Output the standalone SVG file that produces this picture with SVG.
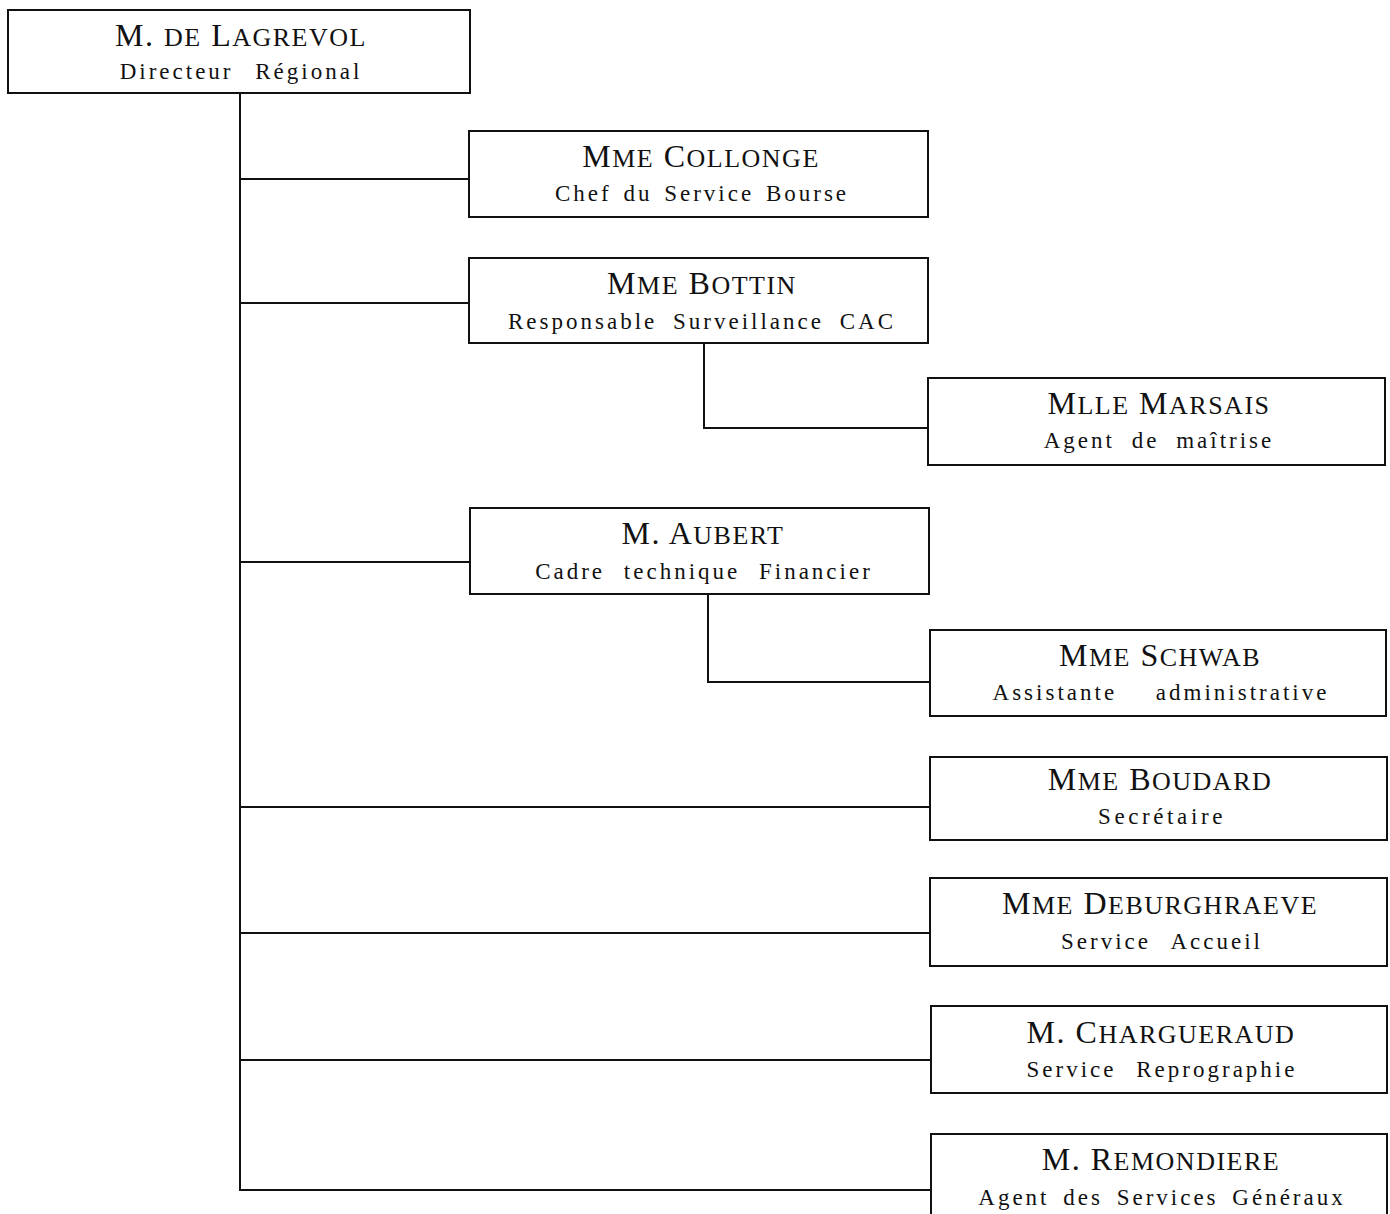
<svg xmlns="http://www.w3.org/2000/svg" width="1390" height="1214" viewBox="0 0 1390 1214">
  <style>
    .box { fill: #fff; stroke: #111; stroke-width: 2; }
    .wire { fill: none; stroke: #111; stroke-width: 2; }
    .name { font-family: "Liberation Serif", "Times New Roman", serif; font-size: 32px; fill: #111; text-anchor: middle; letter-spacing: 1.5px; }
    .sc { font-size: 26px; }
    .role { font-family: "Liberation Serif", "Times New Roman", serif; font-size: 23px; fill: #111; text-anchor: middle; letter-spacing: 3px; word-spacing: 8px; }
  </style>
  <rect width="1390" height="1214" fill="#fff"/>

  <!-- connectors -->
  <g id="connectors">
    <path class="wire" d="M240 93 V1190 H931"/>
    <path class="wire" d="M240 179 H469"/>
    <path class="wire" d="M240 303 H469"/>
    <path class="wire" d="M704 343 V428 H928"/>
    <path class="wire" d="M240 562 H470"/>
    <path class="wire" d="M708 594 V682 H930"/>
    <path class="wire" d="M240 807 H930"/>
    <path class="wire" d="M240 933 H930"/>
    <path class="wire" d="M240 1060 H931"/>
  </g>

  <g id="lagrevol">
    <rect class="box" x="8" y="10" width="462" height="83"/>
    <text class="name" x="241" y="46">M. <tspan class="sc">DE</tspan> L<tspan class="sc">AGREVOL</tspan></text>
    <text class="role" x="241" y="79" style="word-spacing:13px">Directeur Régional</text>
  </g>

  <g id="collonge">
    <rect class="box" x="469" y="131" width="459" height="86"/>
    <text class="name" x="701" y="167">M<tspan class="sc">ME</tspan> C<tspan class="sc">OLLONGE</tspan></text>
    <text class="role" x="702" y="201" style="word-spacing:3px">Chef du Service Bourse</text>
  </g>

  <g id="bottin">
    <rect class="box" x="469" y="258" width="459" height="85"/>
    <text class="name" x="702" y="294">M<tspan class="sc">ME</tspan> B<tspan class="sc">OTTIN</tspan></text>
    <text class="role" x="702" y="329" style="word-spacing:7px">Responsable Surveillance CAC</text>
  </g>

  <g id="marsais">
    <rect class="box" x="928" y="378" width="457" height="87"/>
    <text class="name" x="1159" y="414">M<tspan class="sc">LLE</tspan> M<tspan class="sc">ARSAIS</tspan></text>
    <text class="role" x="1159" y="448">Agent de maîtrise</text>
  </g>

  <g id="aubert">
    <rect class="box" x="470" y="508" width="459" height="86"/>
    <text class="name" x="703" y="544">M. A<tspan class="sc">UBERT</tspan></text>
    <text class="role" x="704" y="579" style="word-spacing:10px">Cadre technique Financier</text>
  </g>

  <g id="schwab">
    <rect class="box" x="930" y="630" width="456" height="86"/>
    <text class="name" x="1160" y="666">M<tspan class="sc">ME</tspan> S<tspan class="sc">CHWAB</tspan></text>
    <text class="role" x="1161" y="700" style="word-spacing:30px">Assistante administrative</text>
  </g>

  <g id="boudard">
    <rect class="box" x="930" y="757" width="457" height="83"/>
    <text class="name" x="1160" y="790">M<tspan class="sc">ME</tspan> B<tspan class="sc">OUDARD</tspan></text>
    <text class="role" x="1162" y="824" style="letter-spacing:3.6px">Secrétaire</text>
  </g>

  <g id="deburghraeve">
    <rect class="box" x="930" y="878" width="457" height="88"/>
    <text class="name" x="1160" y="914">M<tspan class="sc">ME</tspan> D<tspan class="sc">EBURGHRAEVE</tspan></text>
    <text class="role" x="1162" y="949" style="word-spacing:12px">Service Accueil</text>
  </g>

  <g id="chargueraud">
    <rect class="box" x="931" y="1006" width="456" height="87"/>
    <text class="name" x="1161" y="1043">M. C<tspan class="sc">HARGUERAUD</tspan></text>
    <text class="role" x="1162" y="1077" style="word-spacing:11px">Service Reprographie</text>
  </g>

  <g id="remondiere">
    <rect class="box" x="931" y="1134" width="456" height="100"/>
    <text class="name" x="1161" y="1170">M. R<tspan class="sc">EMONDIERE</tspan></text>
    <text class="role" x="1162" y="1205" style="word-spacing:5px">Agent des Services Généraux</text>
  </g>
</svg>
